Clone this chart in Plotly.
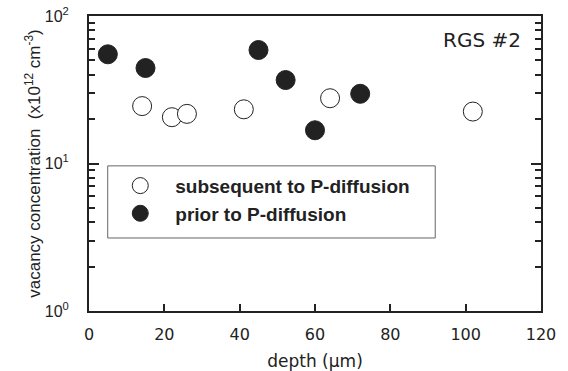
import plotly.graph_objects as go

# Data
depth_after = [14.1, 22.0, 26.0, 41.1, 64.0, 101.9]
conc_after = [24.5, 20.6, 21.7, 23.3, 27.7, 22.5]
depth_prior = [5.0, 15.0, 45.0, 52.2, 60.0, 72.0]
conc_prior = [55.0, 44.4, 58.8, 36.8, 16.8, 29.7]

x_ticks = [0, 20, 40, 60, 80, 100, 120]
y_ticks = [1, 10, 100]
y_ticktext = ["10<sup>0</sup>", "10<sup>1</sup>", "10<sup>2</sup>"]
y_minor = [2, 3, 4, 5, 6, 7, 8, 9, 20, 30, 40, 50, 60, 70, 80, 90]

INK = "#222222"
fig = go.Figure()
fig.add_trace(go.Scatter(
    x=depth_after, y=conc_after, mode="markers",
    name="subsequent to P-diffusion",
    marker=dict(size=19, color="white", line=dict(color=INK, width=1)),
))
fig.add_trace(go.Scatter(
    x=depth_prior, y=conc_prior, mode="markers",
    name="prior to P-diffusion",
    marker=dict(size=19, color=INK, line=dict(color=INK, width=1)),
))

fig.update_layout(
    width=568, height=371,
    margin=dict(l=89, r=27, t=16, b=60),
    paper_bgcolor="white", plot_bgcolor="white",
    showlegend=True,
    legend=dict(
        x=0.036, y=0.489, xanchor="left", yanchor="top",
        bgcolor="rgba(0,0,0,0)", borderwidth=0,
        font=dict(family="Liberation Sans", size=19, color=INK, weight="bold"),
        itemsizing="trace", itemwidth=60,
    ),
    shapes=[dict(
        type="rect", xref="paper", yref="paper",
        x0=0.0414, x1=0.766, y0=0.2475, y1=0.492,
        line=dict(color="#666666", width=1), fillcolor="rgba(0,0,0,0)",
    )],
    annotations=[dict(
        text="RGS #2", xref="paper", yref="paper",
        x=0.96, y=0.92, xanchor="right", yanchor="middle", showarrow=False,
        font=dict(family="DejaVu Sans", size=20, color=INK),
    )],
)

fig.update_xaxes(
    range=[0, 120], tickvals=x_ticks, ticks="inside", ticklen=7, tickwidth=1.5,
    tickcolor=INK, showline=True, linecolor=INK, linewidth=2, mirror=True,
    showgrid=False, zeroline=False, ticklabelstandoff=8, automargin=False,
    tickfont=dict(family="DejaVu Sans", size=16, color=INK),
    title=dict(text="depth (µm)", standoff=12,
               font=dict(family="DejaVu Sans", size=17, color=INK)),
)
fig.update_yaxes(
    type="log", range=[0, 2], tickvals=y_ticks, ticktext=y_ticktext,
    ticks="inside", ticklen=10, tickwidth=1.5, tickcolor=INK,
    showline=True, linecolor=INK, linewidth=2, mirror="ticks",
    showgrid=False, zeroline=False, ticklabelstandoff=15, automargin=False,
    minor=dict(tickvals=y_minor, ticks="inside", ticklen=6, tickwidth=1.5,
               tickcolor=INK, showgrid=False),
    tickfont=dict(family="Liberation Sans", size=16, color=INK),
    title=dict(text="vacancy concentration  (x10<sup>12</sup> cm<sup>-3</sup>)",
               standoff=0,
               font=dict(family="Liberation Sans", size=17, color=INK)),
)

fig.write_html("out.html")
